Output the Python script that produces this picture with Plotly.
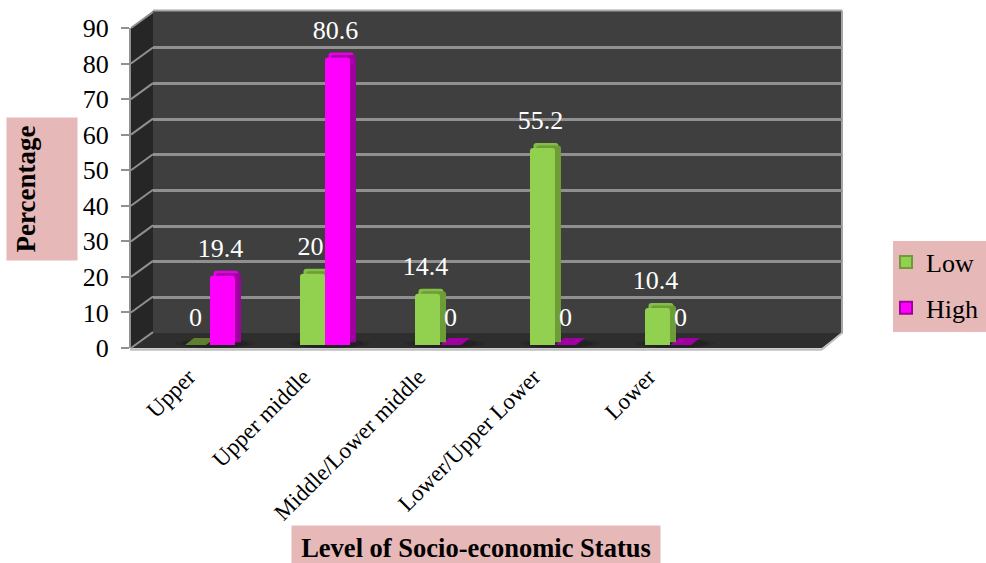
import plotly.graph_objects as go

# ---- data ----
categories = ["Upper", "Upper middle", "Middle/Lower middle", "Lower/Upper Lower", "Lower"]
axis_categories = categories + [" "]
low_values = [0, 20, 14.4, 55.2, 10.4]
high_values = [19.4, 80.6, 0, 0, 0]
y_ticks = [0, 10, 20, 30, 40, 50, 60, 70, 80, 90]

W, H = 986, 563
SERIF = "Liberation Serif, Times New Roman, serif"
PINK = "#E6B8B7"
LOW = dict(front="#92D050", top="#84BF45", side="#6E9C36", plate="#5F7F2C")
HIGH = dict(front="#FF00FF", top="#E600E6", side="#A000A0", plate="#A000A0")
GRID = "#909090"


def px(x):
    return x / W


def py(y):
    return 1 - y / H


def xdom(left, right):
    return [px(left), px(right)]


def ydom(top, bottom):
    return [py(bottom), py(top)]


fig = go.Figure()


def add_axes(n, left, right, top, bottom, **yextra):
    sx = "" if n == 1 else str(n)
    cfg_x = dict(domain=xdom(left, right), type="category", categoryorder="array",
                 categoryarray=axis_categories, range=[-0.5, 5.5], visible=False,
                 fixedrange=True, automargin=False)
    cfg_y = dict(domain=ydom(top, bottom), range=[0, 90], visible=False, fixedrange=True,
                 anchor="x" + sx, automargin=False)
    cfg_x["anchor"] = "y" + sx
    cfg_y.update(yextra)
    fig.layout["xaxis" + sx] = cfg_x
    fig.layout["yaxis" + sx] = cfg_y
    return "x" + sx, "y" + sx


# layer 1: back wall gridlines
xa, ya = add_axes(1, 153, 842, 12, 333)
fig.layout.yaxis.update(visible=True, showgrid=True, gridcolor=GRID, gridwidth=2.5,
                        tickvals=y_ticks, showticklabels=False, ticks="", zeroline=False,
                        showline=False)
fig.add_trace(go.Bar(x=categories, y=low_values, xaxis=xa, yaxis=ya, showlegend=False,
                     marker=dict(opacity=0), hoverinfo="skip"))


def bar_layer(n, left, right, top, bottom, key):
    xa, ya = add_axes(n, left, right, top, bottom)
    for vals, pal in ((low_values, LOW), (high_values, HIGH)):
        fig.add_trace(go.Bar(x=categories, y=vals, xaxis=xa, yaxis=ya, showlegend=False,
                             marker=dict(color=pal[key], line=dict(width=0)),
                             hoverinfo="skip"))


BAR_L, BAR_R, BAR_T, BAR_B = 152.5, 842.5, 24, 345
bar_layer(2, BAR_L + 3.5, BAR_R + 3.5, BAR_T - 5, BAR_B - 5, "top")
bar_layer(3, BAR_L + 6, BAR_R + 6, BAR_T - 2.5, BAR_B - 2.5, "side")
bar_layer(4, BAR_L, BAR_R, BAR_T, BAR_B, "front")

# layer 5: value labels, drawn by invisible bars lifted over the real ones
xa, ya = add_axes(5, BAR_L - 2, BAR_R - 2, BAR_T - 10, BAR_B - 10)
for vals in (low_values, high_values):
    fig.add_trace(go.Bar(x=categories, y=vals, xaxis=xa, yaxis=ya, showlegend=False,
                         marker=dict(opacity=0), text=[f"{v:g}" for v in vals],
                         texttemplate="%{text}", textposition="outside", cliponaxis=False,
                         constraintext="none",
                         textfont=dict(family=SERIF, size=26, color="white"),
                         hoverinfo="skip"))

# layer 6: front axes with tick labels
xa, ya = add_axes(6, 131, 821, 28, 348)
fig.layout.xaxis6.update(visible=True, showline=False, showgrid=False, ticks="",
                         tickangle=-45, tickfont=dict(family=SERIF, size=23, color="black"),
                         tickvals=categories, ticktext=categories, ticklabelstandoff=10)
fig.layout.yaxis6.update(visible=True, showline=True, linecolor=GRID, linewidth=2,
                         showgrid=False, ticks="outside", ticklen=8, tickwidth=2,
                         tickcolor=GRID, tickvals=y_ticks, zeroline=False,
                         ticklabelstandoff=7,
                         tickfont=dict(family=SERIF, size=26, color="black"))
fig.add_trace(go.Scatter(x=categories, y=low_values, xaxis=xa, yaxis=ya, mode="markers",
                         marker=dict(opacity=0), showlegend=False, hoverinfo="skip"))

# legend entries
for name, pal in (("Low", LOW), ("High", HIGH)):
    fig.add_trace(go.Scatter(x=[None], y=[None], xaxis=xa, yaxis=ya, mode="markers", name=name,
                             legendgroup=name,
                             marker=dict(symbol="square", size=12, color=pal["front"],
                                         line=dict(color=pal["side"], width=1.5))))


def poly(points, color):
    path = "M " + " L ".join(f"{px(x):.5f},{py(y):.5f}" for x, y in points) + " Z"
    return dict(type="path", path=path, xref="paper", yref="paper", fillcolor=color,
                line=dict(width=0), layer="below")


def seg(x0, y0, x1, y1, color=GRID, width=2):
    return dict(type="line", xref="paper", yref="paper", x0=px(x0), y0=py(y0), x1=px(x1),
                y1=py(y1), line=dict(color=color, width=width), layer="below")


shapes = [
    poly([(153, 11), (842, 11), (842, 333), (153, 333)], "#3F3F3F"),
    poly([(131, 28), (153, 11), (153, 333), (131, 348)], "#262626"),
    poly([(131, 348), (153, 333), (842, 333), (822, 348)], "#2E2E2E"),
    seg(153, 10.5, 842, 10.5, "#A6A6A6"),
    seg(842, 10.5, 842, 334, "#A6A6A6"),
    seg(130, 349.5, 822, 349.5, "#BFBFBF", 2.5),
    seg(822, 349.5, 842, 333, "#BFBFBF", 2),
    dict(type="rect", xref="paper", yref="paper", x0=px(893), x1=px(986), y0=py(332), y1=py(241),
         fillcolor=PINK, line=dict(width=0), layer="below"),
]
# left wall diagonals
for t in y_ticks:
    fy = 348 - t * 320 / 90
    shapes.append(seg(131, fy, 153, fy - 16))

# soft floor shadows below each bar pair
slot = (BAR_R - BAR_L) / 6
for k in range(len(categories)):
    cx = BAR_L + slot * (k + 0.5) + 5
    for half, alpha in ((40, 0.10), (33, 0.15)):
        shapes.append(dict(type="circle", xref="paper", yref="paper", x0=px(cx - half),
                           x1=px(cx + half), y0=py(348), y1=py(339),
                           fillcolor=f"rgba(0,0,0,{alpha})", line=dict(width=0), layer="below"))

# flat plates for zero bars
for vals, pal, off in ((low_values, LOW, -25), (high_values, HIGH, 0)):
    for k, v in enumerate(vals):
        if v == 0:
            x0 = BAR_L + slot * (k + 0.5) + off
            shapes.append(poly([(x0, 345), (x0 + 21, 345), (x0 + 30, 338), (x0 + 9, 338)],
                               pal["plate"]))

annotations = [
    dict(text="<b>Percentage</b>", xref="paper", yref="paper", x=px(42), y=py(189),
         xanchor="center", yanchor="middle", textangle=-90, showarrow=False, bgcolor=PINK,
         width=134, height=62, borderpad=4, valign="top",
         font=dict(family=SERIF, size=27, color="black")),
    dict(text="<b>Level of Socio-economic Status</b>", xref="paper", yref="paper", x=px(476),
         y=py(544.5), xanchor="center", yanchor="middle", showarrow=False, bgcolor=PINK,
         width=368, height=37, borderpad=0, valign="bottom",
         font=dict(family=SERIF, size=26.5, color="black")),
]

fig.update_layout(
    width=W, height=H, autosize=False, margin=dict(l=0, r=0, t=0, b=0),
    paper_bgcolor="white", plot_bgcolor="rgba(0,0,0,0)",
    barmode="group", bargap=0.565, bargroupgap=0, barcornerradius=3,
    shapes=shapes, annotations=annotations,
    legend=dict(x=px(886), y=py(238.5), xanchor="left", yanchor="top", bgcolor="rgba(0,0,0,0)",
                font=dict(family=SERIF, size=26, color="black"), itemsizing="constant",
                tracegroupgap=9, traceorder="grouped"),
)

fig.write_html("out.html", config={"displayModeBar": False},
               post_script="document.body.style.margin='0';")
